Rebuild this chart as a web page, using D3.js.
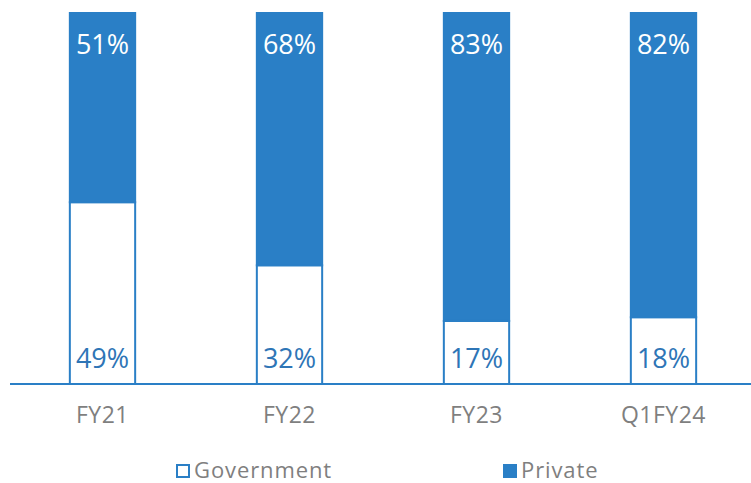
<!DOCTYPE html>
<html>
<head>
<meta charset="utf-8">
<title>Government vs Private</title>
<script src="https://d3js.org/d3.v7.min.js"></script>
<style>
  body { margin: 0; background: #fff; }
</style>
</head>
<body>
<svg width="751" height="483" font-family="'Open Sans', sans-serif"></svg>
<script>
var categories = ["FY21", "FY22", "FY23", "Q1FY24"];
var government = [49, 32, 17, 18];
var privateShare = [51, 68, 83, 82];
var seriesNames = ["Government", "Private"];

var svg = d3.select("svg"),
    width = +svg.attr("width"),
    height = +svg.attr("height");

var blue = "#2a7fc6";

var data = categories.map(function(c, i) {
  return { cat: c, Government: government[i], Private: privateShare[i] };
});

var x = d3.scaleBand().domain(categories).range([9, 757])
    .paddingInner(0.64).paddingOuter(0.32);
var y = d3.scaleLinear().domain([0, 100]).range([384, 13]);

var stack = d3.stack().keys(seriesNames)(data);

var layer = svg.append("g").selectAll("g")
  .data(stack)
  .enter().append("g");

layer.selectAll("rect")
  .data(function(d) { return d.map(function(v) { v.key = d.key; return v; }); })
  .enter().append("rect")
    .attr("x", function(d) { return x(d.data.cat) + 1; })
    .attr("width", x.bandwidth() - 2)
    .attr("y", function(d) { return y(d[1]); })
    .attr("height", function(d) { return y(d[0]) - y(d[1]); })
    .attr("fill", function(d) { return d.key == "Private" ? blue : "#fff"; })
    .attr("stroke", blue)
    .attr("stroke-width", 2);

// axis line
svg.append("line")
  .attr("x1", 10).attr("x2", width)
  .attr("y1", y(0)).attr("y2", y(0))
  .attr("stroke", blue).attr("stroke-width", 2);

// value labels
svg.append("g").selectAll("text")
  .data(data)
  .enter().append("text")
    .attr("x", function(d) { return x(d.cat) + x.bandwidth() / 2; })
    .attr("y", y(100) + 41)
    .attr("text-anchor", "middle")
    .attr("font-size", 27)
    .attr("fill", "#fff")
    .text(function(d) { return d.Private + "%"; });

svg.append("g").selectAll("text")
  .data(data)
  .enter().append("text")
    .attr("x", function(d) { return x(d.cat) + x.bandwidth() / 2; })
    .attr("y", y(0) - 16)
    .attr("text-anchor", "middle")
    .attr("font-size", 27)
    .attr("fill", "#2e75b6")
    .text(function(d) { return d.Government + "%"; });

// category labels
svg.append("g").selectAll("text")
  .data(categories)
  .enter().append("text")
    .attr("x", function(d) { return x(d) + x.bandwidth() / 2; })
    .attr("y", 423)
    .attr("text-anchor", "middle")
    .attr("font-size", 23)
    .attr("letter-spacing", 0.5)
    .attr("fill", "#7f7f7f")
    .text(function(d) { return d; });

// legend
var legend = svg.append("g").selectAll("g")
  .data(seriesNames)
  .enter().append("g")
    .attr("transform", function(d, i) { return "translate(" + (i == 0 ? 176 : 503) + ",478)"; });

legend.append("rect")
  .attr("x", 1).attr("y", -13)
  .attr("width", 12).attr("height", 12)
  .attr("fill", function(d) { return d == "Private" ? blue : "#fff"; })
  .attr("stroke", blue).attr("stroke-width", 2);

legend.append("text")
  .attr("x", 18).attr("y", 0)
  .attr("font-size", 22)
  .attr("letter-spacing", 0.9)
  .attr("fill", "#7f7f7f")
  .text(function(d) { return d; });
</script>
</body>
</html>
